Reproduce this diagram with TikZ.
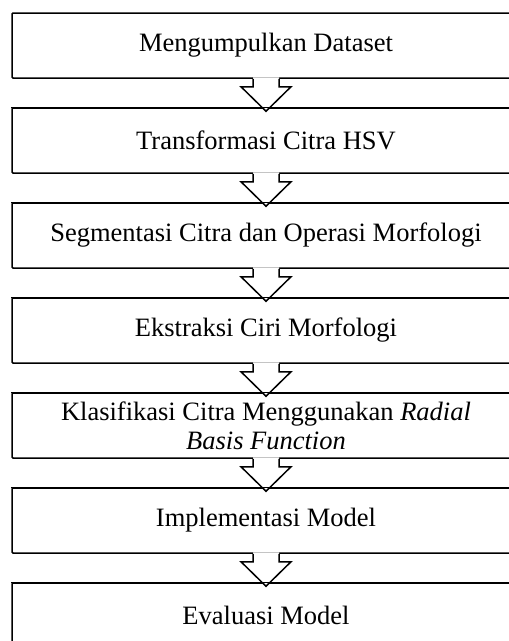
\documentclass[tikz,border=0pt]{standalone}
\usepackage{fontspec}
\setmainfont{Liberation Serif}
\usetikzlibrary{calc}
\newcommand\flowarr[2]{%
  \path[fill=white] ($(#1.south)+(-13,-1.5)$) -- ++(0,9.5) -- ++(-12,0) -- ($(#2.north)+(0,4)$) -- ($(#1.south)+(25,8)$) -- ++(-12,0) -- ++(0,-9.5) -- cycle;
  \draw[flow] ($(#1.south)+(-13,0)$) -- ++(0,8) -- ++(-12,0) -- ($(#2.north)+(0,4)$) -- ($(#1.south)+(25,8)$) -- ++(-12,0) -- ++(0,-8);
  \draw[flow] (#2.north west) -- (#2.north east);
}
\begin{document}
\begin{tikzpicture}[x=1pt,y=-1pt,
  box/.style={draw, line width=1.5pt, minimum width=508pt, minimum height=65pt, inner sep=0pt,
    align=center, font=\fontsize{26.5}{29}\selectfont, rounded corners=1pt},
  flow/.style={line width=1.5pt, line join=miter}]
\useasboundingbox (0,0) rectangle (509,641);
\clip (0,0) rectangle (509,641);
\node[box] (b1) at (266,45.5) {Mengumpulkan Dataset};
\node[box] (b2) at (266,140.5) {Transformasi Citra HSV};
\node[box] (b3) at (266,235.5) {Segmentasi Citra dan Operasi Morfologi};
\node[box] (b4) at (266,330.5) {Ekstraksi Ciri Morfologi};
\node[box] (b5) at (266,425.5) {Klasifikasi Citra Menggunakan \textit{Radial}\\\textit{Basis Function}};
\node[box] (b6) at (266,520.5) {Implementasi Model};
\node[box] (b7) at (266,615.5) {Evaluasi Model};
\flowarr{b1}{b2}
\flowarr{b2}{b3}
\flowarr{b3}{b4}
\flowarr{b4}{b5}
\flowarr{b5}{b6}
\flowarr{b6}{b7}
\end{tikzpicture}
\end{document}
